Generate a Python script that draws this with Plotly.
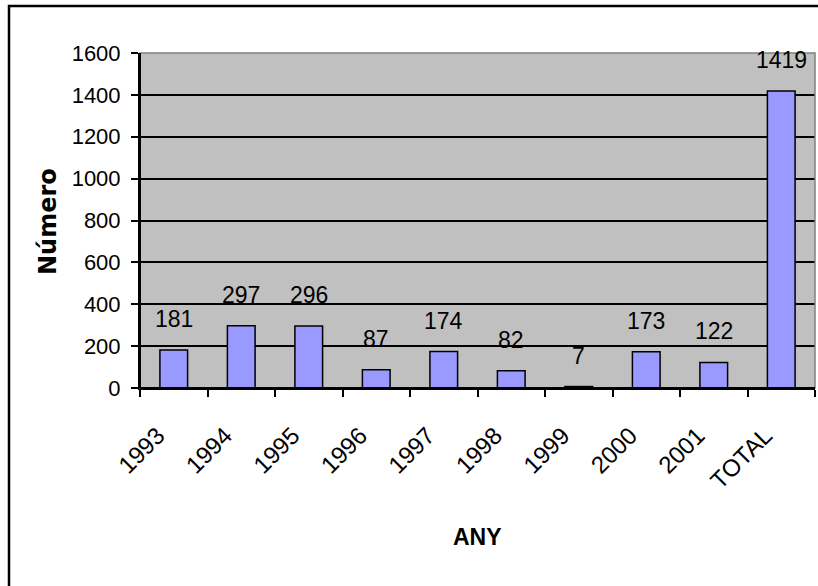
import plotly.graph_objects as go

categories = ["1993", "1994", "1995", "1996", "1997", "1998", "1999", "2000", "2001", "TOTAL"]
values = [181, 297, 296, 87, 174, 82, 7, 173, 122, 1419]
y_ticks = [0, 200, 400, 600, 800, 1000, 1200, 1400, 1600]

W, H = 818, 586
L, R, T, B = 140, 3, 53, 198
PW, PH = W - L - R, H - T - B

def px_x(p):
    return (p - L) / PW

def px_y(p):
    return (H - B - p) / PH

FONT = "Liberation Sans, Arial, sans-serif"

fig = go.Figure()
fig.add_trace(go.Bar(
    x=categories, y=values,
    marker=dict(color="#9999FF", line=dict(color="black", width=1.5)),
    width=0.41,
    hoverinfo="x+y",
))

for i, v in enumerate(values):
    fig.add_annotation(x=i, y=v, text=str(v), showarrow=False, xref="x", yref="y",
                       yanchor="bottom", yshift=16,
                       font=dict(family=FONT, size=23, color="black"))

fig.update_layout(
    width=W, height=H,
    margin=dict(l=L, r=R, t=T, b=B, pad=0),
    paper_bgcolor="white",
    plot_bgcolor="#C0C0C0",
    showlegend=False,
)

fig.update_xaxes(
    type="category", tickson="boundaries", ticks="outside", ticklen=7, tickwidth=1.5,
    tickcolor="black", showline=True, linecolor="black", linewidth=2,
    tickangle=-45, tickfont=dict(family=FONT, size=24, color="black"),
    ticklabelstandoff=22, ticklabelshift=-16,
    showgrid=False, range=[-0.5, 9.5], zeroline=False,
)
fig.update_yaxes(
    range=[0, 1600], tickvals=y_ticks, ticks="outside", ticklen=7, tickwidth=1.5,
    tickcolor="black", showline=True, linecolor="black", linewidth=2,
    showgrid=True, gridcolor="black", gridwidth=1.5, ticklabelstandoff=6,
    tickfont=dict(family=FONT, size=22, color="black"), zeroline=False,
)

# plot area border (gray), with black left and bottom axis lines
fig.add_shape(type="rect", xref="paper", yref="paper", x0=0, y0=0, x1=1, y1=1,
              line=dict(color="#808080", width=1.5), layer="above")
fig.add_shape(type="line", xref="paper", yref="paper", x0=0, y0=0, x1=0, y1=1,
              line=dict(color="black", width=2), layer="above")
fig.add_shape(type="line", xref="paper", yref="paper", x0=0, y0=0, x1=1, y1=0,
              line=dict(color="black", width=2), layer="above")

# outer chart border
fig.add_shape(type="rect", xref="paper", yref="paper",
              x0=px_x(9), x1=px_x(840), y0=px_y(600), y1=px_y(6),
              line=dict(color="black", width=2.5), layer="above")

fig.add_annotation(text="<b>Número</b>", xref="paper", yref="paper",
                   x=px_x(48), y=px_y(222), xanchor="center", yanchor="middle",
                   textangle=-90, showarrow=False,
                   font=dict(family="DejaVu Sans, sans-serif", size=24, color="black"))
fig.add_annotation(text="<b>ANY</b>", xref="paper", yref="paper",
                   x=px_x(477), y=px_y(537), xanchor="center", yanchor="middle",
                   showarrow=False,
                   font=dict(family=FONT, size=23, color="black"))

fig.write_html("out.html", config={"displayModeBar": False},
               post_script="document.body.style.margin='0';")
